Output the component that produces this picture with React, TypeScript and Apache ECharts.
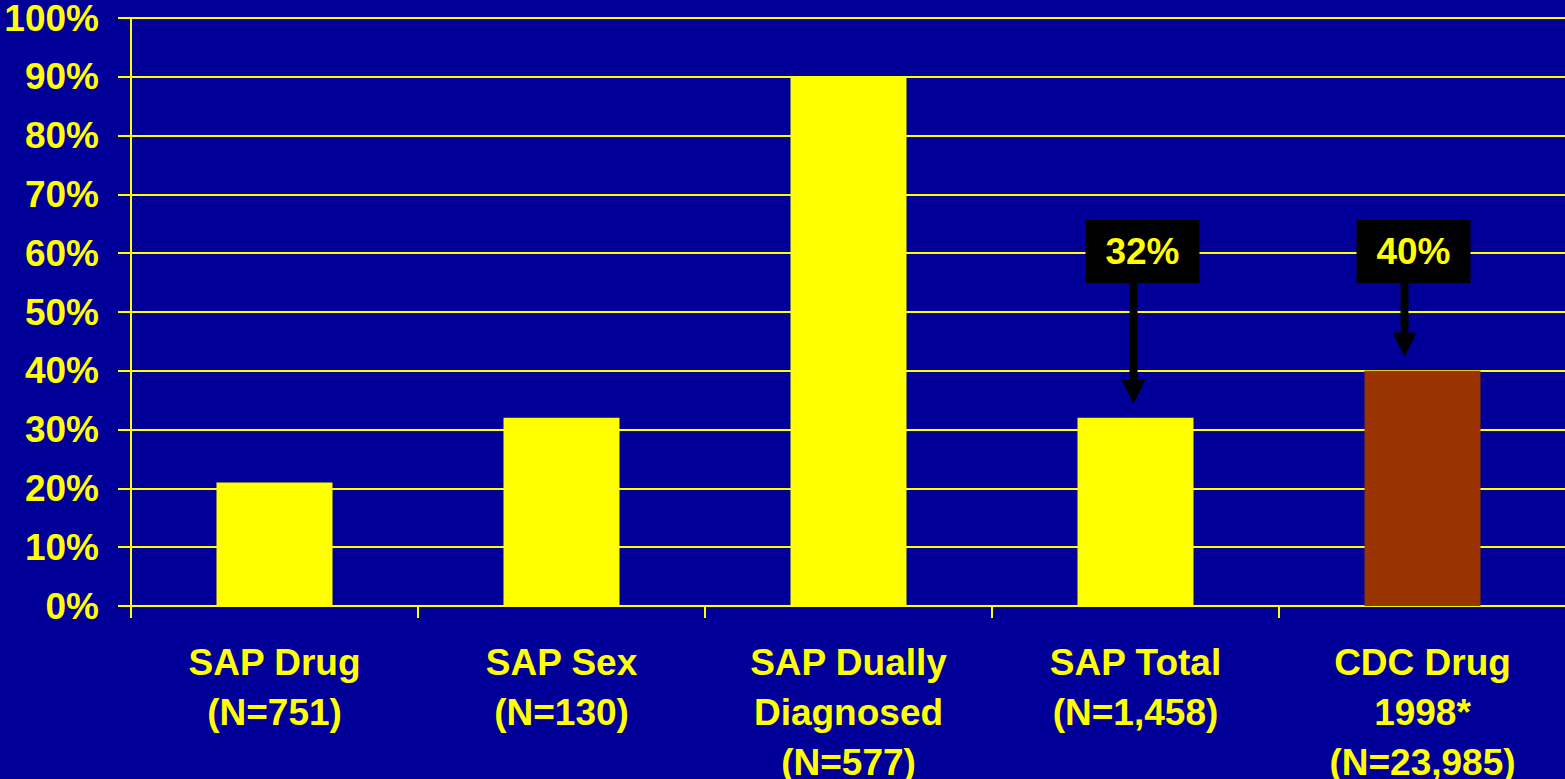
import React, { useEffect, useRef } from "react";
import * as echarts from "echarts";

const categories = [
  "SAP Drug\n(N=751)",
  "SAP Sex\n(N=130)",
  "SAP Dually\nDiagnosed\n(N=577)",
  "SAP Total\n(N=1,458)",
  "CDC Drug\n1998*\n(N=23,985)",
];
const values = [21, 32, 90, 32, 40];
const barColors = ["#FFFF00", "#FFFF00", "#FFFF00", "#FFFF00", "#993300"];

// callouts: category index and value they point at
const calloutCategory = [3, 4];
const calloutValue = [32, 40];
const calloutLevel = 60.3; // value level of callout box centre

const YELLOW = "#FFFF00";
const BG = "#000099";
const FONT = "Arial, 'Liberation Sans', Helvetica, sans-serif";
const calloutDx = [7, -9];

export default function App() {
  const ref = useRef<HTMLDivElement>(null);
  useEffect(() => {
    if (!ref.current) return;
    document.body.style.margin = "0";
    document.body.style.background = BG;
    const chart = echarts.init(ref.current, undefined, { renderer: "svg", width: 1565, height: 779 });
    chart.setOption({
      animation: false,
      backgroundColor: BG,
      grid: {
        left: 131,
        right: -1,
        top: 18,
        bottom: 173,
        containLabel: false,
        outerBoundsMode: "none",
      },
      xAxis: {
        type: "category",
        data: categories,
        axisLine: { show: true, lineStyle: { color: YELLOW, width: 2 } },
        axisTick: { show: true, length: 12, lineStyle: { color: YELLOW, width: 2 } },
        axisLabel: {
          interval: 0,
          color: YELLOW,
          fontSize: 37,
          fontWeight: "bold",
          fontFamily: FONT,
          lineHeight: 50,
          margin: 31,
        },
      },
      yAxis: {
        type: "value",
        min: 0,
        max: 100,
        interval: 10,
        axisLine: { show: true, lineStyle: { color: YELLOW, width: 2 } },
        axisTick: { show: true, length: 13, lineStyle: { color: YELLOW, width: 2 } },
        splitLine: { show: true, lineStyle: { color: YELLOW, width: 2 } },
        axisLabel: {
          formatter: "{value}%",
          color: YELLOW,
          fontSize: 37,
          fontWeight: "bold",
          fontFamily: FONT,
          margin: 32,
        },
      },
      series: [
        {
          type: "bar",
          barWidth: 116,
          data: values.map((v, i) => ({ value: v, itemStyle: { color: barColors[i] } })),
        },
        {
          type: "custom",
          clip: false,
          z: 10,
          data: calloutCategory.map((c, i) => [c, calloutValue[i]]),
          renderItem: (params: any, api: any) => {
            const i = params.dataIndex;
            const p = api.coord([api.value(0), api.value(1)]);
            const pb = api.coord([api.value(0), calloutLevel]);
            const bx = p[0] + calloutDx[i];
            const by = pb[1];
            const ax = bx - 9;
            const tipY = p[1] - 14;
            const headTop = tipY - 24;
            const boxBottom = by + 31.5;
            return {
              type: "group",
              children: [
                {
                  type: "rect",
                  shape: { x: bx - 57, y: by - 31.5, width: 114, height: 63 },
                  style: { fill: "#000000" },
                },
                {
                  type: "text",
                  style: {
                    x: bx,
                    y: by,
                    text: `${calloutValue[i]}%`,
                    fill: YELLOW,
                    fontSize: 37,
                    fontWeight: "bold",
                    fontFamily: FONT,
                    align: "center",
                    verticalAlign: "middle",
                  },
                },
                {
                  type: "rect",
                  shape: { x: ax - 4, y: boxBottom, width: 8, height: headTop - boxBottom },
                  style: { fill: "#000000" },
                },
                {
                  type: "polygon",
                  shape: {
                    points: [
                      [ax - 12, headTop],
                      [ax + 12, headTop],
                      [ax, tipY],
                    ],
                  },
                  style: { fill: "#000000" },
                },
              ],
            };
          },
        },
      ],
    });
    return () => chart.dispose();
  }, []);
  return (
    <div
      ref={ref}
      style={{ position: "absolute", left: 0, top: 0, width: 1565, height: 779, overflow: "hidden", background: BG }}
    />
  );
}
